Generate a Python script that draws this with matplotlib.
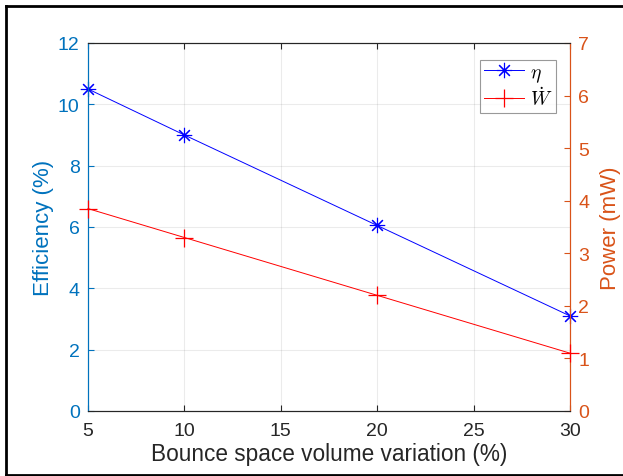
import matplotlib
matplotlib.use("Agg")
import matplotlib.pyplot as plt
from matplotlib.lines import Line2D

x_vals = [5, 10, 20, 30]
efficiency = [10.5, 9.0, 6.05, 3.1]
power = [3.85, 3.3, 2.2, 1.1]
x_ticks = [5, 10, 15, 20, 25, 30]
left_ticks = [0, 2, 4, 6, 8, 10, 12]
right_ticks = [0, 1, 2, 3, 4, 5, 6, 7]

blue_ax = (0, 0.447, 0.741)
orange_ax = (0.85, 0.325, 0.098)
dark = (0.15, 0.15, 0.15)

plt.rcParams['font.family'] = ['Liberation Sans', 'DejaVu Sans']
plt.rcParams['mathtext.fontset'] = 'cm'
fig = plt.figure(figsize=(6.23, 4.77), dpi=100)
ax = fig.add_axes([88/623, 1-412/477, (570-88)/623, (412-44)/477])
ax2 = ax.twinx()

star = (8, 2, 0)
ax.plot(x_vals, efficiency, color='blue', marker=star, markersize=11, mew=0.8, lw=0.7, clip_on=False, zorder=5)
ax2.plot(x_vals, power, color='red', marker='+', markersize=13, mew=0.9, lw=0.7, clip_on=False, zorder=5)

ax.set_xlim(5, 30)
ax.set_ylim(0, 12)
ax2.set_ylim(0, 7)
ax.set_xticks(x_ticks)
ax.set_yticks(left_ticks)
ax2.set_yticks(right_ticks)
ax.grid(True, color=(0.15, 0.15, 0.15), alpha=0.09, lw=0.8)

ax.tick_params(axis='x', direction='in', colors=dark, labelsize=14, length=4, pad=8, top=True)
ax.tick_params(axis='y', direction='in', colors=blue_ax, labelcolor=blue_ax, labelsize=14, length=4, pad=6)
ax2.tick_params(axis='y', direction='in', colors=orange_ax, labelcolor=orange_ax, labelsize=14, length=4, pad=6)

for sp in ['top', 'bottom']:
    ax.spines[sp].set_color(dark)
    ax2.spines[sp].set_color(dark)
    ax.spines[sp].set_linewidth(0.8)
    ax2.spines[sp].set_linewidth(0.8)
ax.spines['left'].set_color(blue_ax)
ax2.spines['left'].set_color(blue_ax)
ax.spines['right'].set_color(orange_ax)
ax2.spines['right'].set_color(orange_ax)

ax.set_xlabel('Bounce space volume variation (%)', fontsize=16.3, color=dark, labelpad=2)
ax.set_ylabel('Efficiency (%)', fontsize=16, color=blue_ax, labelpad=3)
ax2.set_ylabel('Power (mW)', fontsize=16, color=orange_ax, labelpad=8)

handles = [Line2D([], [], color='blue', marker=star, markersize=11, mew=0.8, lw=0.7),
           Line2D([], [], color='red', marker='+', markersize=13, mew=0.9, lw=0.7)]
leg = ax2.legend(handles, [r'$\eta$', r'$\dot{W}$'], loc='upper right',
                 bbox_to_anchor=(0.98, 0.965), fontsize=14, frameon=True,
                 fancybox=False, edgecolor=(0.5, 0.5, 0.5), handlelength=2.1,
                 borderpad=0.2, labelspacing=0.1, handletextpad=0.3, borderaxespad=0.2)
leg.get_frame().set_linewidth(0.8)

# figure border
fig.add_artist(Line2D([6/623, 1], [1-7/477, 1-7/477], color='black', lw=2, transform=fig.transFigure))
fig.add_artist(Line2D([6/623, 6/623], [1-7/477, 1-476/477], color='black', lw=2, transform=fig.transFigure))
fig.add_artist(Line2D([6/623, 1], [1-476/477, 1-476/477], color='black', lw=2, transform=fig.transFigure))

fig.savefig('out.png', dpi=100)
